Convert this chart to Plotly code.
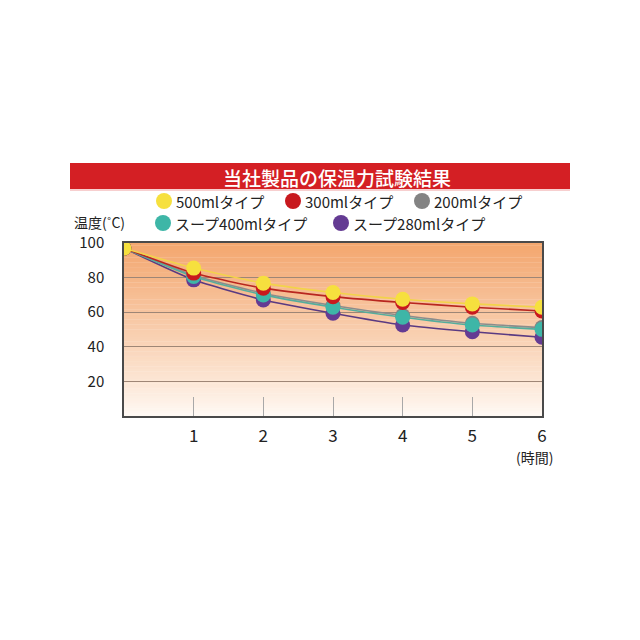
import plotly.graph_objects as go

# データ (時間ごとの温度)
hours = [0, 1, 2, 3, 4, 5, 6]
names = ["500mlタイプ", "300mlタイプ", "200mlタイプ", "スープ400mlタイプ", "スープ280mlタイプ"]
temp_500 = [97, 85.5, 76.8, 71.4, 67.5, 64.8, 62.9]
temp_300 = [97, 82.6, 73.9, 69.0, 65.6, 62.9, 60.7]
temp_200 = [97, 81.4, 71.0, 63.9, 58.1, 53.6, 51.1]
temp_soup400 = [97, 80.6, 70.0, 62.9, 57.1, 52.6, 50.1]
temp_soup280 = [97, 78.7, 67.1, 59.4, 52.6, 48.7, 45.5]
x_ticks = [1, 2, 3, 4, 5, 6]
y_ticks = [20, 40, 60, 80, 100]

MARKER = ["#f6e03e", "#c8191e", "#838383", "#3eb6a7", "#643b93"]
LINE = ["#f2d34a", "#b8261f", "#8c8c8c", "#55ad9d", "#5a3a82"]
FONT = "Noto Sans CJK JP"

# page is drawn with an 8px body margin
OFF = 8
W = H = 640 - 2 * OFF
# plot area in window pixels
L, R, T, B = 124, 542, 243, 416


def px(x):
    return (x - L) / (R - L)


def py(y):
    return (B - y) / (B - T)


series = [temp_500, temp_300, temp_200, temp_soup400, temp_soup280]

fig = go.Figure()
# 下の系列から描く (黄色が一番上)
for i in [4, 2, 3, 1, 0]:
    fig.add_trace(go.Scatter(
        x=hours, y=series[i], mode="lines+markers", name=names[i],
        line=dict(color=LINE[i], width=1.6, shape="spline", smoothing=0.6),
        marker=dict(size=15, color=MARKER[i]),
        showlegend=False,
    ))

shapes = []
# 背景グラデーション
top_c = (243, 166, 110)
bot_c = (255, 250, 245)
n = 70
for k in range(n):
    f = (k + 0.5) / n
    c = tuple(round(bot_c[j] + (top_c[j] - bot_c[j]) * f ** 0.9) for j in range(3))
    shapes.append(dict(type="rect", xref="x domain", yref="y domain",
                       x0=0, x1=1, y0=k / n, y1=(k + 1) / n + 0.002,
                       fillcolor="rgb(%d,%d,%d)" % c, line=dict(width=0), layer="below"))

# タイトル帯
shapes.append(dict(type="rect", xref="paper", yref="paper",
                   x0=px(70), x1=px(570), y0=py(189), y1=py(163),
                   fillcolor="#d41f24", line=dict(width=0)))
shapes.append(dict(type="line", xref="paper", yref="paper",
                   x0=px(70), x1=px(570), y0=py(190), y1=py(190),
                   line=dict(color="#f0a0a0", width=1)))

annotations = [
    dict(text="当社製品の保温力試験結果", x=px(337), y=py(177), xref="paper", yref="paper",
         showarrow=False, font=dict(family=FONT, size=19, color="white", weight=500),
         xanchor="center", yanchor="middle"),
    dict(text="温度(˚C)", x=px(72), y=py(222), xref="paper", yref="paper",
         showarrow=False, font=dict(family=FONT, size=14, color="#222"),
         xanchor="left", yanchor="middle"),
    dict(text="(時間)", x=px(534), y=py(457), xref="paper", yref="paper",
         showarrow=False, font=dict(family=FONT, size=14, color="#222"),
         xanchor="center", yanchor="middle"),
]

# 凡例
legend_pos = [(164, 201), (293, 201), (422, 201), (163, 223), (341, 223)]
for i, (cx, cy) in enumerate(legend_pos):
    r = 8
    shapes.append(dict(type="circle", xref="paper", yref="paper",
                       x0=px(cx - r), x1=px(cx + r), y0=py(cy + r), y1=py(cy - r),
                       fillcolor=MARKER[i], line=dict(width=0)))
    annotations.append(dict(text=names[i], x=px(cx + 10), y=py(cy), xref="paper", yref="paper",
                            showarrow=False,
                            font=dict(family=FONT, size=15, color="#222"),
                            xanchor="left", yanchor="middle"))

fig.update_layout(
    width=W, height=H,
    margin=dict(l=L - OFF, r=W - (R - OFF), t=T - OFF, b=H - (B - OFF)),
    paper_bgcolor="white", plot_bgcolor="white",
    shapes=shapes, annotations=annotations,
    font=dict(family=FONT, color="#222"),
    xaxis=dict(range=[0, 6], tickvals=x_ticks, ticks="inside", ticklen=19,
               tickcolor="#a8a8a8", tickwidth=1, showgrid=False, zeroline=False,
               showline=True, mirror=True, linecolor="#4a4a4a", linewidth=1.5,
               tickfont=dict(size=17, color="#222"), ticklabelstandoff=4),
    yaxis=dict(range=[0, 100], tickvals=y_ticks, ticks="", showgrid=True,
               gridcolor="#9e8676", gridwidth=1, zeroline=False,
               showline=True, mirror=True, linecolor="#4a4a4a", linewidth=1.5,
               tickfont=dict(size=15, color="#222"), ticklabelstandoff=15),
)

fig.write_html("out.html")
